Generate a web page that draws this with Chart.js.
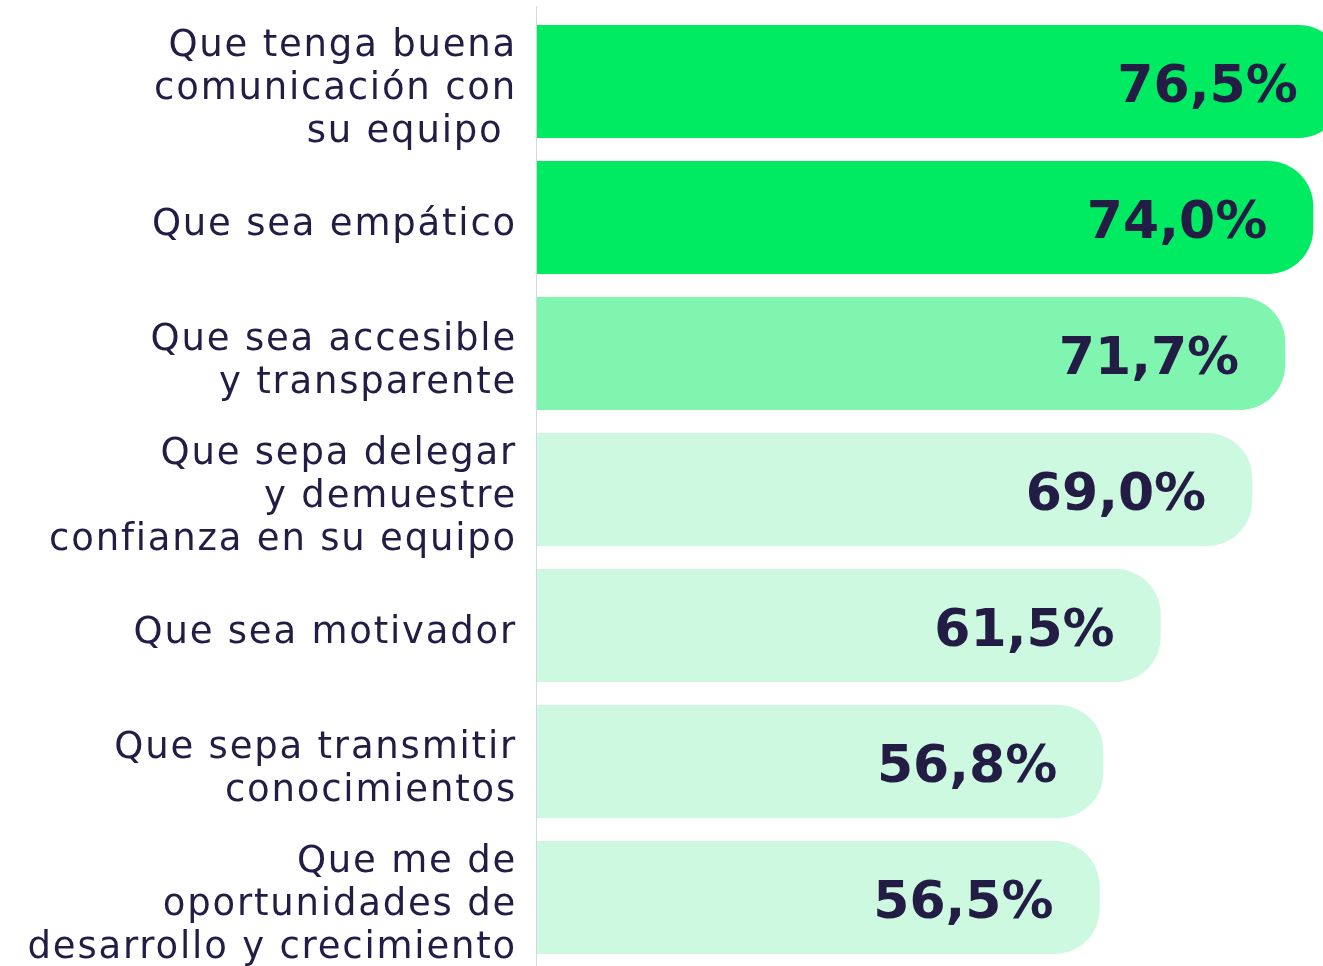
<!DOCTYPE html>
<html lang="es">
<head>
<meta charset="utf-8">
<title>Cualidades de un buen líder</title>
<script src="https://cdn.jsdelivr.net/npm/chart.js@4.4.1/dist/chart.umd.min.js"></script>
<style>
    html, body { margin: 0; padding: 0; background: #ffffff; }
    #cualidades { display: block; }
</style>
</head>
<body>
<canvas id="cualidades" width="1323" height="966"></canvas>
<script>
// Cualidades valoradas (etiquetas multilínea para el eje Y)
var categorias = [
    ["Que tenga buena", "comunicación con", "su equipo "],
    "Que sea empático",
    ["Que sea accesible", "y transparente"],
    ["Que sepa delegar", "y demuestre", "confianza en su equipo"],
    "Que sea motivador",
    ["Que sepa transmitir", "conocimientos"],
    ["Que me de", "oportunidades de", "desarrollo y crecimiento"],
];

// Porcentaje de respuestas
var valores = [76.5, 74.0, 71.7, 69.0, 61.5, 56.8, 56.5];

// Texto de cada barra, con coma decimal
var etiquetas = valores.map(function (v) {
    return v.toFixed(1).replace(".", ",") + "%";
});

var colorTexto = "#231d45";
var coloresBarra = [
    "#00eb62",
    "#00eb62",
    "#80f5af",
    "#ccf9df",
    "#ccf9df",
    "#ccf9df",
    "#ccf9df",
];

// Linea vertical del eje y espaciado de letras para las etiquetas
var ejePlugin = {
    id: "eje",
    beforeDraw: function (chart) {
        var ctx = chart.ctx;
        ctx.save();
        ctx.strokeStyle = "#d6d6de";
        ctx.lineWidth = 1;
        ctx.beginPath();
        ctx.moveTo(chart.chartArea.left - 0.5, 6);
        ctx.lineTo(chart.chartArea.left - 0.5, chart.height);
        ctx.stroke();
        ctx.restore();
        ctx.letterSpacing = "1.8px";
    },
    afterDraw: function (chart) {
        chart.ctx.letterSpacing = "0px";
    },
};

// Valor dentro de cada barra, alineado a la derecha
var valorPlugin = {
    id: "valor",
    afterDatasetsDraw: function (chart) {
        var ctx = chart.ctx;
        var meta = chart.getDatasetMeta(0);
        ctx.save();
        ctx.letterSpacing = "0px";
        ctx.font = "bold 52px 'DejaVu Sans'";
        ctx.fillStyle = colorTexto;
        ctx.textAlign = "right";
        ctx.textBaseline = "alphabetic";
        meta.data.forEach(function (bar, i) {
            ctx.fillText(etiquetas[i], bar.x - 46, bar.y + 20);
        });
        ctx.restore();
    },
};

var grafico = new Chart(document.getElementById("cualidades"), {
    type: "bar",
    data: {
        labels: categorias,
        datasets: [
            {
                label: "Cualidades",
                data: valores,
                backgroundColor: coloresBarra,
                borderWidth: 0,
                borderRadius: 45,
                borderSkipped: "start",
                barPercentage: 0.83,
                categoryPercentage: 1,
            },
        ],
    },
    options: {
        indexAxis: "y",
        responsive: false,
        animation: false,
        layout: { padding: { top: 13.5, bottom: 0.5, left: 0, right: 0 } },
        plugins: {
            legend: { display: false },
            tooltip: { enabled: false },
        },
        scales: {
            x: {
                display: false,
                min: 10.4,
                max: 74.8,
            },
            y: {
                afterFit: function (scale) {
                    scale.width = 537;
                    scale.paddingTop = 0;
                    scale.paddingBottom = 0;
                },
                grid: { display: false, drawTicks: false },
                border: { display: false },
                ticks: {
                    color: colorTexto,
                    padding: 20,
                    labelOffset: 8,
                    font: {
                        family: "'DejaVu Sans'",
                        size: 37,
                        weight: 400,
                        lineHeight: 1.16,
                    },
                },
            },
        },
    },
    plugins: [ejePlugin, valorPlugin],
});
</script>
</body>
</html>
